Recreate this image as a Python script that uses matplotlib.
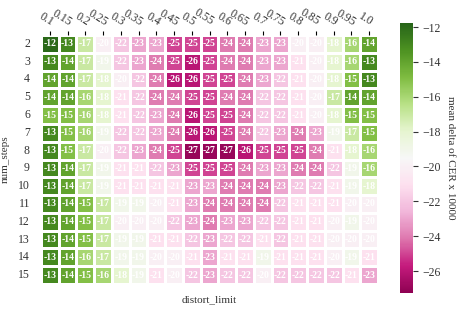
import numpy as np
import pandas as pd
import seaborn as sns
import matplotlib
matplotlib.use("Agg")
from matplotlib import pyplot as plt

# distort_limit columns and num_steps rows
distort_limit = ['0.1', '0.15', '0.2', '0.25', '0.3', '0.35', '0.4', '0.45', '0.5', '0.55',
                 '0.6', '0.65', '0.7', '0.75', '0.8', '0.85', '0.9', '0.95', '1.0']
num_steps = [2, 3, 4, 5, 6, 7, 8, 9, 10, 11, 12, 13, 14, 15]

# mean delta of CER x 10000
row_2 = [-12, -13, -17, -20, -22, -23, -23, -25, -25, -25, -24, -24, -23, -23, -20, -20, -18, -16, -14]
row_3 = [-13, -14, -17, -19, -22, -23, -24, -25, -26, -25, -24, -24, -23, -23, -21, -20, -18, -16, -13]
row_4 = [-14, -14, -17, -18, -20, -22, -24, -26, -26, -25, -25, -24, -23, -22, -21, -20, -18, -15, -13]
row_5 = [-14, -14, -16, -18, -21, -22, -24, -24, -25, -25, -24, -24, -22, -22, -21, -20, -17, -14, -14]
row_6 = [-15, -15, -16, -18, -21, -22, -23, -24, -26, -25, -25, -24, -22, -22, -21, -20, -18, -15, -15]
row_7 = [-13, -15, -16, -19, -22, -22, -23, -24, -26, -26, -25, -24, -22, -23, -24, -23, -19, -17, -15]
row_8 = [-13, -15, -17, -20, -22, -23, -24, -25, -27, -27, -27, -26, -25, -25, -25, -24, -21, -18, -16]
row_9 = [-13, -14, -17, -19, -21, -21, -22, -23, -25, -25, -25, -24, -23, -23, -24, -24, -22, -19, -16]
row_10 = [-13, -14, -17, -19, -21, -21, -21, -21, -23, -23, -24, -24, -24, -23, -22, -22, -21, -19, -18]
row_11 = [-13, -14, -15, -17, -19, -19, -20, -21, -23, -24, -24, -24, -24, -22, -21, -21, -21, -20, -20]
row_12 = [-13, -14, -15, -17, -20, -20, -20, -22, -23, -24, -23, -23, -22, -22, -21, -21, -20, -19, -20]
row_13 = [-13, -14, -15, -17, -19, -19, -21, -21, -22, -23, -22, -22, -21, -22, -21, -21, -20, -20, -20]
row_14 = [-13, -14, -16, -17, -19, -19, -20, -20, -21, -23, -21, -21, -19, -21, -21, -21, -20, -19, -21]
row_15 = [-13, -14, -15, -16, -18, -19, -21, -20, -22, -23, -22, -22, -20, -22, -22, -22, -22, -21, -23]

# colour scale limits seen on the colorbar
cmin, cmax = -27.26, -11.77

df = pd.DataFrame([row_2, row_3, row_4, row_5, row_6, row_7, row_8, row_9,
                   row_10, row_11, row_12, row_13, row_14, row_15],
                  index=num_steps, columns=distort_limit)

plt.rcParams['font.family'] = ['Liberation Serif', 'DejaVu Serif']
plt.rcParams['font.size'] = 8

fig = plt.figure(figsize=(4.59, 3.12), dpi=100)
ax = fig.add_axes([41 / 459, 1 - 284 / 312, 337 / 459, 249 / 312])
cax = fig.add_axes([400 / 459, 1 - 293 / 312, 13 / 459, 270 / 312])

sns.heatmap(df, ax=ax, cbar_ax=cax, cmap='PiYG', vmin=cmin, vmax=cmax,
            annot=True, fmt='.0f', linewidths=2, linecolor='white',
            annot_kws={'color': 'white', 'weight': 'bold', 'fontsize': 7})

# ticks on top, labels slanted down to the right
ax.xaxis.tick_top()
ax.set_xticklabels(distort_limit, rotation=-32, ha='right', va='bottom',
                   rotation_mode='anchor', color='#333333', fontsize=8.5)
ax.set_yticklabels(num_steps, rotation=0, color='#333333', fontsize=8.5)
ax.tick_params(axis='y', length=0, pad=8)
ax.tick_params(axis='x', length=3, pad=2)
ax.set_xlabel('distort_limit', color='#333333', labelpad=8)
ax.set_ylabel('num_steps', color='#333333', labelpad=6)

cb = ax.collections[0].colorbar
cb.outline.set_visible(True)
cb.outline.set_edgecolor('#333333')
cb.set_label('mean delta of CER x 10000', rotation=270, labelpad=10, color='#333333')
cax.tick_params(labelsize=8.5, colors='#333333')

fig.savefig('out.png', dpi=100)
